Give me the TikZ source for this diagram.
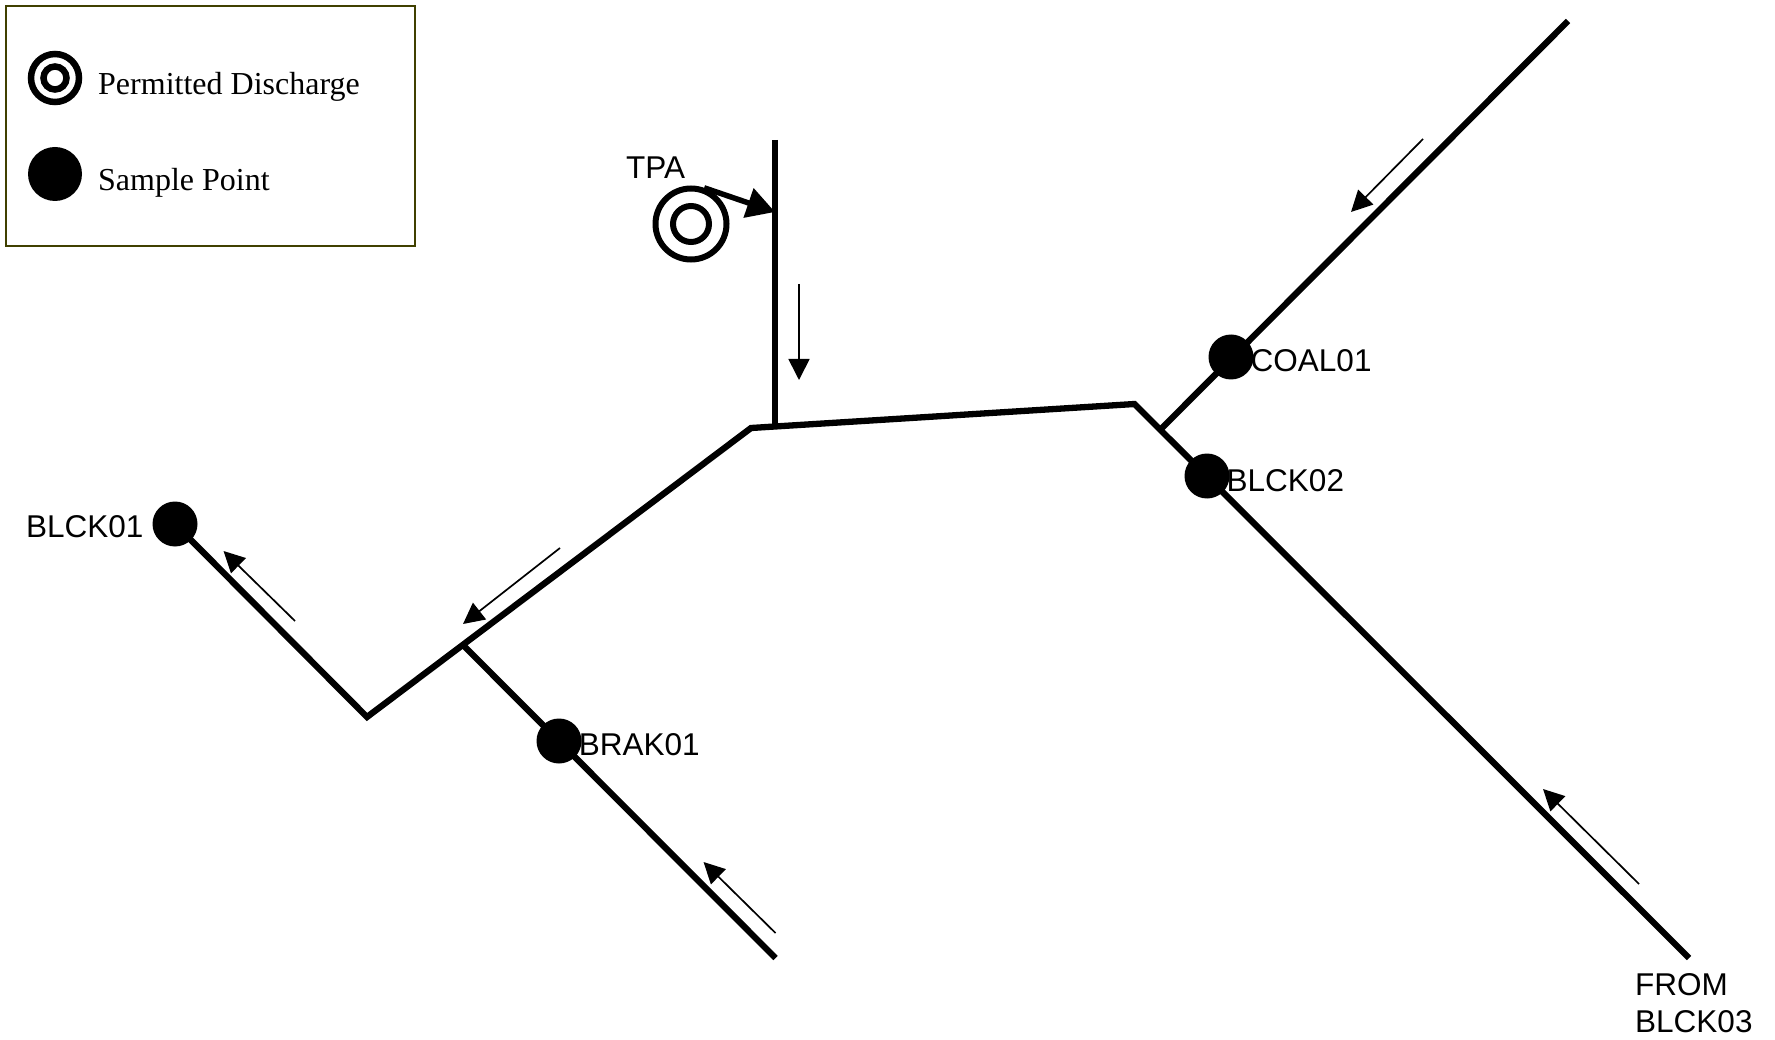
\documentclass[tikz,border=0pt]{standalone}
\usepackage{fontspec}
\setmainfont{Liberation Serif}
\newfontfamily\arialfont{Liberation Sans}
\usetikzlibrary{arrows.meta}
\definecolor{legendborder}{RGB}{64,64,0}
\tikzset{
  pipe/.style={line width=6.3pt,black,line cap=butt,line join=miter},
  flow/.style={line width=1.7pt,black,-{Triangle[length=21pt,width=21pt]}},
  inflow/.style={line width=5.5pt,black,-{Triangle[length=28pt,width=30pt]}},
  legendbox/.style={draw=legendborder,line width=2.2pt,fill=none,rectangle,inner sep=0pt,minimum width=409pt,minimum height=240pt},
  samplept/.style={circle,fill=black,draw=none,inner sep=0pt,minimum size=45pt},
  legendpt/.style={circle,fill=black,draw=none,inner sep=0pt,minimum size=54pt},
  ringbig/.style={circle,draw=black,line width=6pt,fill=none,inner sep=0pt,minimum size=71pt},
  ringsmall/.style={circle,draw=black,line width=6pt,fill=none,inner sep=0pt,minimum size=36pt},
  lringbig/.style={circle,draw=black,line width=6.5pt,fill=none,inner sep=0pt,minimum size=48pt},
  lringsmall/.style={circle,draw=black,line width=6.5pt,fill=none,inner sep=0pt,minimum size=23pt},
  sanslabel/.style={anchor=base west,inner sep=0pt,font=\arialfont\fontsize{31.5}{36}\selectfont},
  seriflabel/.style={anchor=base west,inner sep=0pt,font=\fontsize{32}{36}\selectfont},
}
\begin{document}
\begin{tikzpicture}[x=1pt,y=-1pt]
\useasboundingbox (0,0) rectangle (1775,1040);
% pipe network coordinates
\coordinate (vtop) at (775,140);
\coordinate (vbot) at (775,427);
\coordinate (bendA) at (751,428);
\coordinate (bendB) at (1134.5,404);
\coordinate (fromend) at (1689,958);
\coordinate (coaltop) at (1568,21);
\coordinate (coalfoot) at (1160,430);
\coordinate (vee) at (367,717);
\coordinate (brakfoot) at (462,644);
\coordinate (brakend) at (775.5,958);
% sample points
\node[samplept] (coal) at (1231,357) {};
\node[samplept] (blcktwo) at (1207,476) {};
\node[samplept] (blckone) at (175,524) {};
\node[samplept] (brak) at (559,741) {};
% pipes
\draw[pipe] (vtop) -- (vbot);
\draw[pipe] (fromend) -- (bendB) -- (bendA) -- (vee) -- (blckone.center);
\draw[pipe] (coaltop) -- (coalfoot);
\draw[pipe] (brakfoot) -- (brakend);
% flow arrows
\coordinate (fa1) at (1423,139); \coordinate (fa2) at (1351,212);
\coordinate (fb1) at (799,284);  \coordinate (fb2) at (799,380);
\coordinate (fc1) at (295,621);  \coordinate (fc2) at (223.5,551);
\coordinate (fd1) at (560,548);  \coordinate (fd2) at (463,624);
\coordinate (fe1) at (775.5,933); \coordinate (fe2) at (703.5,862);
\coordinate (ff1) at (1639,884); \coordinate (ff2) at (1543,789);
\draw[flow] (fa1) -- (fa2);
\draw[flow] (fb1) -- (fb2);
\draw[flow] (fc1) -- (fc2);
\draw[flow] (fd1) -- (fd2);
\draw[flow] (fe1) -- (fe2);
\draw[flow] (ff1) -- (ff2);
% TPA discharge
\node[ringbig] (tpaouter) at (691,224) {};
\node[ringsmall] (tpainner) at (691,224) {};
\coordinate (tpatip) at (775,212);
\draw[inflow] (tpaouter.70) -- (tpatip);
% labels
\node[sanslabel] (tpa) at (626,179) {TPA};
\node[sanslabel] (coallabel) at (1250.5,372) {COAL01};
\node[sanslabel] (blcktwolabel) at (1226.5,491) {BLCK02};
\node[sanslabel] (blckonelabel) at (26,537.5) {BLCK01};
\node[sanslabel] (braklabel) at (578.6,755) {BRAK01};
\node[sanslabel] (fromlabel) at (1635,995) {FROM};
\node[sanslabel] (blckthreelabel) at (1635,1032) {BLCK03};
% legend
\node[legendbox] (legend) at (210.5,126) {};
\node[lringbig] (legouter) at (55,78) {};
\node[lringsmall] (leginner) at (55,78) {};
\node[legendpt] (legsample) at (55,174) {};
\node[seriflabel] (legperm) at (98,95) {Permitted Discharge};
\node[seriflabel] (legsamp) at (98,191) {Sample Point};
\end{tikzpicture}
\end{document}
